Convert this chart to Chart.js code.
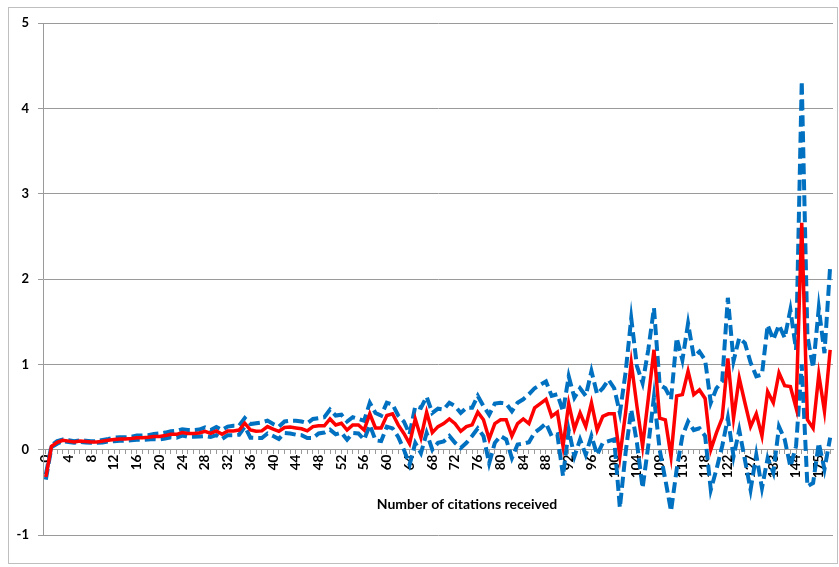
<!DOCTYPE html>
<html>
<head>
<meta charset="utf-8">
<script src="https://cdn.jsdelivr.net/npm/chart.js@4.4.1/dist/chart.umd.min.js"></script>
<style>
  html, body { margin: 0; padding: 0; background: #fff; }
  #wrap { width: 839px; height: 567px; position: relative; }
</style>
</head>
<body>
<div id="wrap"><canvas id="chart"></canvas></div>
<script>
// Citation counts (category axis, one entry per observed count)
const citations = [
  0, 1, 2, 3, 4, 5, 6, 7, 8, 9, 10, 11, 12, 13, 14, 15, 16, 17, 18, 19,
  20, 21, 22, 23, 24, 25, 26, 27, 28, 29, 30, 31, 32, 33, 34, 35, 36, 37, 38, 39,
  40, 41, 42, 43, 44, 45, 46, 47, 48, 49, 50, 51, 52, 53, 54, 55, 56, 57, 58, 59,
  60, 61, 62, 63, 64, 65, 66, 67, 68, 69, 70, 71, 72, 73, 74, 75, 76, 77, 78, 79,
  80, 81, 82, 83, 84, 85, 86, 87, 88, 89, 90, 91, 92, 93, 94, 95, 96, 97, 98, 99,
  100, 101, 102, 103, 104, 105, 106, 107, 109, 110, 111, 112, 113, 114, 115, 116, 118, 119, 120, 121,
  122, 123, 124, 125, 127, 128, 129, 131, 133, 134, 137, 140, 144, 147, 152, 160, 175, 190, 222
];

// Mean (red line)
const meanValues = [
  -0.32, 0.04, 0.085, 0.11, 0.10, 0.09, 0.10, 0.095, 0.09, 0.09,
  0.10, 0.11, 0.12, 0.125, 0.125, 0.13, 0.14, 0.14, 0.145, 0.155,
  0.155, 0.165, 0.18, 0.18, 0.20, 0.19, 0.19, 0.195, 0.215, 0.19,
  0.22, 0.18, 0.22, 0.22, 0.23, 0.31, 0.23, 0.215, 0.22, 0.27,
  0.24, 0.215, 0.26, 0.265, 0.255, 0.245, 0.22, 0.27, 0.28, 0.28,
  0.36, 0.29, 0.31, 0.23, 0.29, 0.29, 0.23, 0.42, 0.255, 0.255,
  0.40, 0.42, 0.29, 0.19, 0.07, 0.36, 0.14, 0.44, 0.20, 0.27,
  0.305, 0.36, 0.305, 0.215, 0.27, 0.29, 0.44, 0.35, 0.125, 0.305,
  0.35, 0.35, 0.16, 0.305, 0.36, 0.305, 0.49, 0.54, 0.59, 0.39,
  0.44, 0.04, 0.54, 0.24, 0.43, 0.27, 0.55, 0.23, 0.39, 0.42,
  0.42, -0.08, 0.43, 1.02, 0.51, 0.04, 0.60, 1.17, 0.37, 0.35,
  -0.08, 0.63, 0.645, 0.92, 0.645, 0.70, 0.60, 0.0, 0.20, 0.37,
  1.07, 0.37, 0.84, 0.55, 0.27, 0.42, 0.16, 0.68, 0.55, 0.90,
  0.75, 0.74, 0.49, 2.66, 0.35, 0.25, 0.88, 0.45, 1.17
];

// Upper bound (blue dashed)
const upperValues = [
  -0.29, 0.05, 0.10, 0.12, 0.11, 0.10, 0.11, 0.105, 0.10, 0.10,
  0.115, 0.125, 0.14, 0.145, 0.145, 0.15, 0.165, 0.165, 0.17, 0.185,
  0.19, 0.20, 0.215, 0.22, 0.24, 0.23, 0.23, 0.235, 0.26, 0.23,
  0.265, 0.23, 0.27, 0.28, 0.28, 0.37, 0.30, 0.31, 0.32, 0.34,
  0.30, 0.27, 0.33, 0.34, 0.34, 0.33, 0.31, 0.36, 0.37, 0.38,
  0.47, 0.40, 0.41, 0.33, 0.38, 0.36, 0.34, 0.55, 0.43, 0.40,
  0.55, 0.53, 0.40, 0.33, 0.18, 0.51, 0.49, 0.62, 0.43, 0.48,
  0.47, 0.55, 0.51, 0.43, 0.49, 0.49, 0.63, 0.51, 0.41, 0.54,
  0.55, 0.54, 0.45, 0.55, 0.59, 0.65, 0.72, 0.76, 0.80, 0.63,
  0.65, 0.45, 0.86, 0.61, 0.72, 0.63, 0.92, 0.65, 0.72, 0.82,
  0.72, 0.43, 0.90, 1.54, 0.98, 0.78, 1.17, 1.66, 0.76, 0.72,
  0.59, 1.31, 1.05, 1.48, 1.09, 1.15, 1.05, 0.55, 0.72, 0.80,
  1.78, 1.04, 1.31, 1.25, 1.02, 0.86, 0.88, 1.46, 1.29, 1.46,
  1.31, 1.64, 1.17, 4.32, 1.33, 0.96, 1.66, 1.13, 2.15
];

// Lower bound (blue dashed)
const lowerValues = [
  -0.35, 0.03, 0.07, 0.10, 0.09, 0.08, 0.09, 0.085, 0.08, 0.08,
  0.085, 0.095, 0.10, 0.105, 0.105, 0.11, 0.115, 0.115, 0.12, 0.125,
  0.12, 0.13, 0.145, 0.14, 0.165, 0.15, 0.15, 0.155, 0.16, 0.15,
  0.17, 0.125, 0.17, 0.17, 0.175, 0.27, 0.14, 0.137, 0.137, 0.19,
  0.16, 0.125, 0.195, 0.19, 0.176, 0.17, 0.137, 0.137, 0.19, 0.20,
  0.234, 0.18, 0.20, 0.117, 0.195, 0.19, 0.117, 0.29, 0.11, 0.10,
  0.27, 0.25, 0.15, 0.0, -0.176, 0.078, -0.04, 0.195, 0.0, 0.08,
  0.097, 0.16, 0.08, 0.02, 0.08, 0.16, 0.25, 0.16, -0.16, 0.08,
  0.16, 0.12, -0.10, 0.06, 0.07, 0.087, 0.20, 0.25, 0.31, 0.16,
  0.18, -0.31, 0.23, -0.08, 0.12, -0.06, 0.16, -0.06, 0.08, 0.10,
  0.12, -0.68, -0.04, 0.47, 0.08, -0.45, 0.05, 0.62, 0.0, -0.35,
  -0.72, -0.23, 0.16, 0.33, 0.23, 0.25, 0.16, -0.47, -0.23, 0.04,
  0.37, -0.08, 0.23, -0.12, -0.47, -0.06, -0.45, -0.10, -0.27, 0.27,
  0.12, -0.20, 0.04, 1.0, -0.43, -0.39, 0.08, -0.23, 0.14
];

const axisTitle = 'Number of citations received';
const FONT = 'Lato, "Open Sans", sans-serif';

// white background, outer border and the x axis title
const framePlugin = {
  id: 'frame',
  beforeDraw(chart) {
    const ctx = chart.ctx;
    ctx.save();
    ctx.fillStyle = '#fff';
    ctx.fillRect(0, 0, chart.width, chart.height);
    ctx.strokeStyle = '#bfbfbf';
    ctx.lineWidth = 1;
    ctx.strokeRect(8.5, 7.5, chart.width - 10, chart.height - 11);
    ctx.restore();
  },
  afterDraw(chart) {
    const ctx = chart.ctx;
    ctx.save();
    ctx.fillStyle = '#000';
    ctx.font = 'bold 14px ' + FONT;
    ctx.textAlign = 'center';
    ctx.textBaseline = 'middle';
    ctx.fillText(axisTitle, 467, 504);
    ctx.restore();
  }
};

new Chart(document.getElementById('chart'), {
  type: 'line',
  data: {
    labels: citations,
    datasets: [
      {
        label: 'Mean',
        data: meanValues,
        borderColor: '#ff0000',
        borderWidth: 3.5,
        pointRadius: 0,
        tension: 0,
        fill: false
      },
      {
        label: 'Upper',
        data: upperValues,
        borderColor: '#0070c0',
        borderWidth: 4,
        borderDash: [11, 5],
        pointRadius: 0,
        tension: 0,
        fill: false
      },
      {
        label: 'Lower',
        data: lowerValues,
        borderColor: '#0070c0',
        borderWidth: 4,
        borderDash: [11, 5],
        pointRadius: 0,
        tension: 0,
        fill: false
      }
    ]
  },
  options: {
    responsive: true,
    maintainAspectRatio: false,
    animation: false,
    layout: { padding: { left: 8, top: 23, right: 6, bottom: 32 } },
    plugins: {
      legend: { display: false },
      tooltip: { enabled: false }
    },
    scales: {
      x: {
        type: 'category',
        position: { y: 0 },
        offset: true,
        grid: {
          drawOnChartArea: false,
          drawTicks: true,
          tickLength: 4,
          color: '#9a9a9a'
        },
        border: { display: true, color: '#9a9a9a', width: 1 },
        ticks: {
          autoSkip: false,
          minRotation: 90,
          maxRotation: 90,
          padding: 1,
          color: '#000',
          // small lineHeight keeps the rotated labels from shrinking the axis
          font: { family: FONT, size: 13.5, weight: 'bold', lineHeight: 0.2 },
          callback(value, index) {
            return index % 4 === 0 ? String(citations[index]) : '';
          }
        }
      },
      y: {
        min: -1,
        max: 5,
        afterFit(scale) { scale.width = 35; },
        grid: {
          color: '#9a9a9a',
          tickLength: 5
        },
        border: { display: true, color: '#9a9a9a' },
        ticks: {
          stepSize: 1,
          padding: 9,
          color: '#000',
          font: { family: FONT, size: 13, weight: 'bold' }
        }
      }
    }
  },
  plugins: [framePlugin]
});
</script>
</body>
</html>
